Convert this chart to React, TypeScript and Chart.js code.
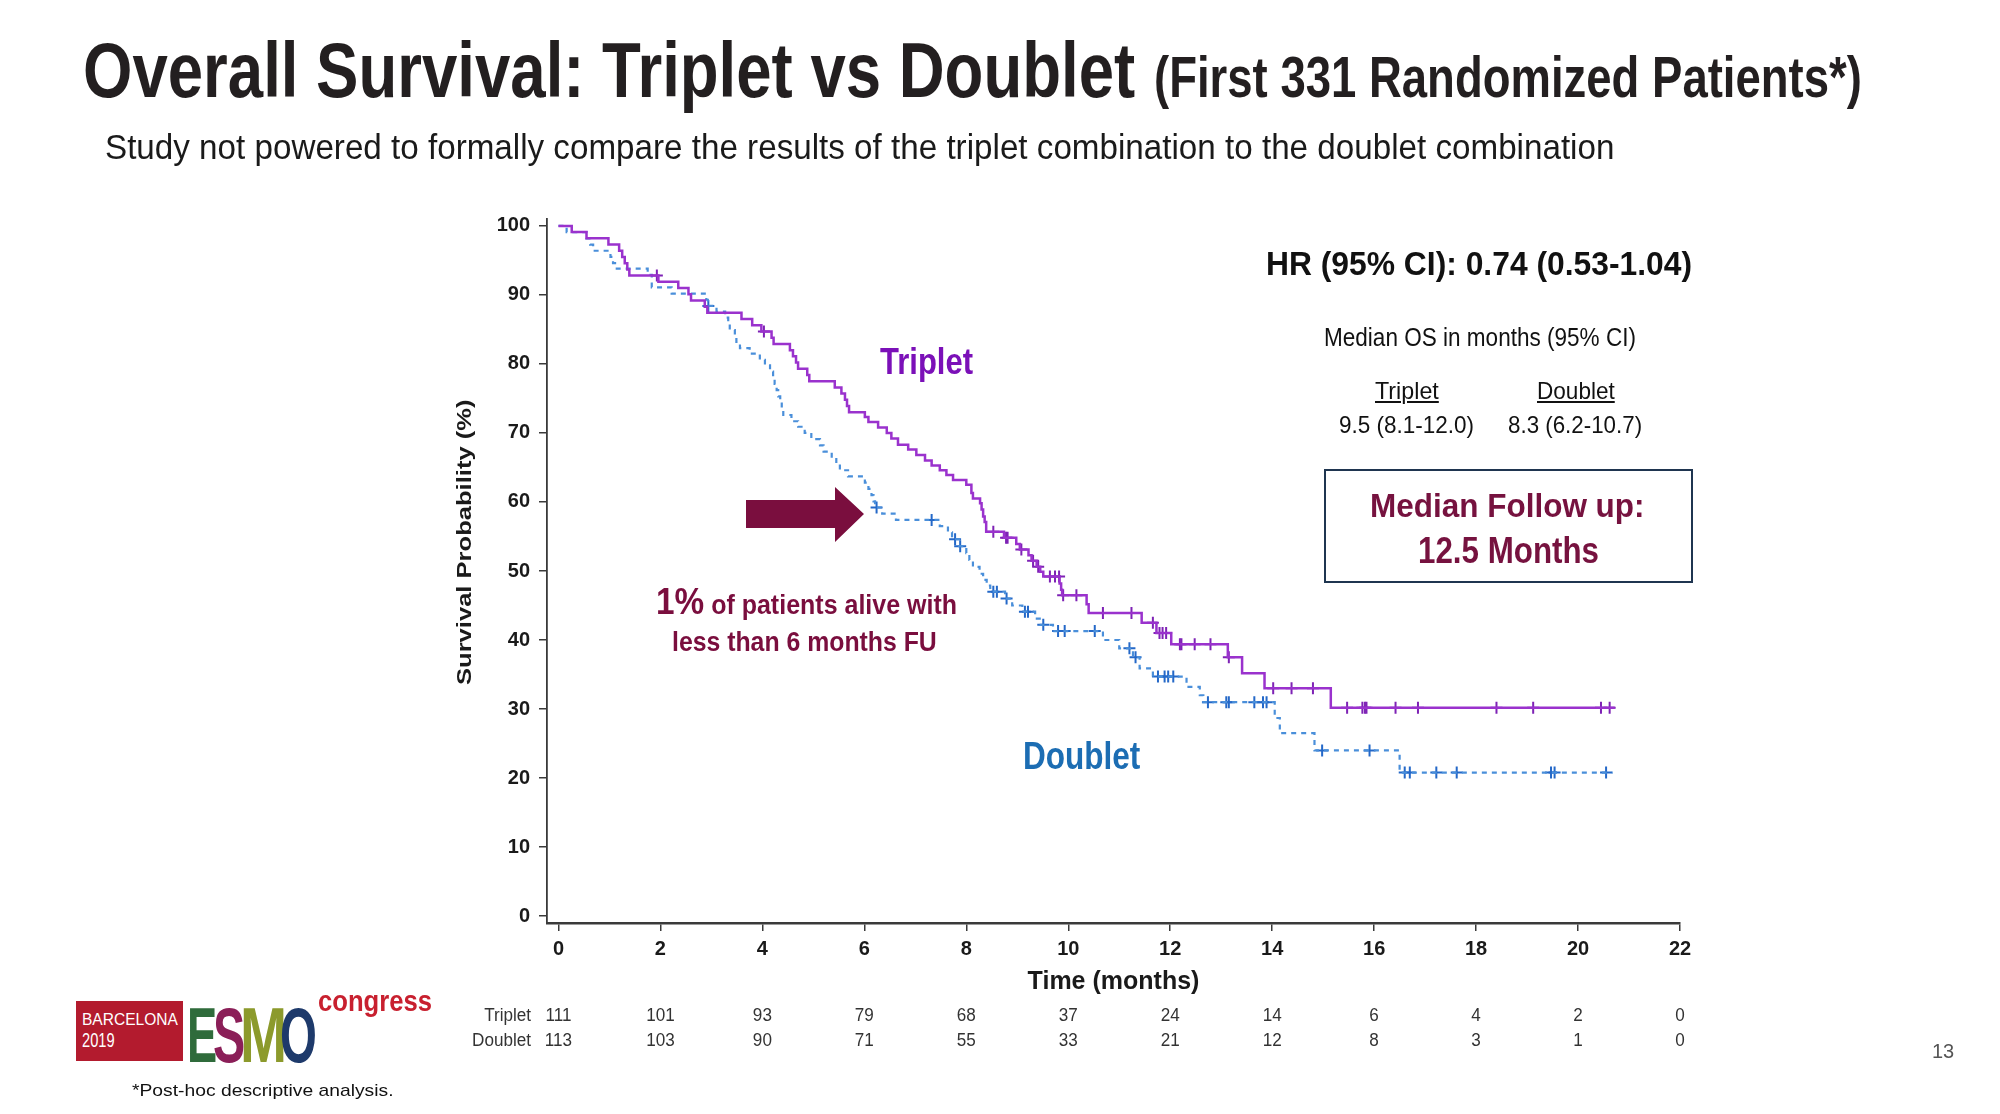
import React, { useEffect, useLayoutEffect, useRef } from "react";
import { Chart, registerables } from "chart.js";

Chart.register(...registerables);

// ---------------- DATA ----------------
const tripletTimes = [0, 0.26, 0.55, 0.98, 1.19, 1.25, 1.3, 1.35, 1.39, 1.96, 2.35, 2.55, 2.6, 2.87, 2.92, 3.59, 3.8, 3.98, 4.18, 4.22, 4.54, 4.6, 4.66, 4.7, 4.88, 4.92, 5.42, 5.55, 5.62, 5.66, 5.7, 6.01, 6.08, 6.27, 6.44, 6.53, 6.66, 6.86, 7.02, 7.19, 7.32, 7.48, 7.61, 7.74, 8.0, 8.1, 8.13, 8.27, 8.3, 8.33, 8.36, 8.39, 8.74, 8.98, 9.05, 9.22, 9.28, 9.38, 9.45, 9.51, 9.83, 9.86, 9.88, 10.36, 10.4, 11.44, 11.73, 12.02, 13.13, 13.41, 13.85, 15.15, 20.72];
const tripletSurv = [100, 99.1, 98.2, 97.3, 96.4, 95.5, 94.6, 93.7, 92.8, 91.9, 91.0, 90.1, 89.2, 88.3, 87.4, 86.5, 85.6, 84.7, 83.8, 82.9, 82.0, 81.1, 80.2, 79.3, 78.4, 77.5, 76.6, 75.7, 74.8, 73.9, 73.0, 72.3, 71.6, 70.8, 70.0, 69.2, 68.3, 67.6, 66.8, 66.0, 65.3, 64.6, 63.9, 63.2, 62.5, 61.3, 60.5, 59.8, 58.9, 57.9, 57.1, 55.7, 54.8, 53.9, 53.1, 52.3, 51.5, 50.6, 49.9, 49.2, 48.2, 47.3, 46.5, 45.2, 43.9, 42.5, 41.0, 39.4, 37.5, 35.2, 33.0, 30.2, 30.2];
const tripletCensorTimes = [1.93, 4.03, 8.53, 8.78, 8.81, 9.08, 9.31, 9.41, 9.64, 9.74, 9.82, 9.9, 10.16, 10.68, 11.24, 11.66, 11.79, 11.85, 11.92, 12.19, 12.22, 12.48, 12.79, 13.15, 14.02, 14.38, 14.8, 15.47, 15.77, 15.82, 15.85, 16.42, 16.86, 18.4, 19.12, 20.45, 20.62];

const doubletTimes = [0, 0.16, 0.55, 0.62, 0.68, 1.02, 1.07, 1.11, 1.75, 1.83, 2.22, 2.9, 2.93, 3.1, 3.27, 3.33, 3.36, 3.46, 3.49, 3.56, 3.75, 3.95, 4.05, 4.15, 4.21, 4.24, 4.28, 4.31, 4.35, 4.38, 4.41, 4.57, 4.7, 4.83, 4.96, 5.13, 5.2, 5.36, 5.45, 5.52, 5.68, 6.01, 6.08, 6.14, 6.18, 6.21, 6.35, 6.62, 7.48, 7.64, 7.72, 7.86, 8.0, 8.06, 8.13, 8.26, 8.33, 8.4, 8.47, 8.76, 8.9, 9.1, 9.35, 9.44, 9.7, 10.68, 11.0, 11.27, 11.4, 11.66, 12.32, 12.58, 12.65, 14.05, 14.15, 14.83, 16.5, 20.68];
const doubletSurv = [100, 99.1, 98.2, 97.3, 96.4, 95.5, 94.6, 93.8, 92.9, 91.1, 90.2, 89.3, 88.4, 87.6, 86.7, 85.8, 84.9, 84.0, 83.2, 82.3, 81.5, 80.6, 79.8, 78.9, 78.0, 77.1, 76.2, 75.3, 74.4, 73.5, 72.6, 71.7, 70.9, 70.0, 69.1, 68.2, 67.3, 66.4, 65.5, 64.6, 63.7, 62.8, 61.9, 61.0, 60.1, 59.2, 58.3, 57.4, 56.5, 55.6, 54.6, 53.6, 52.6, 51.6, 50.6, 49.6, 48.7, 47.9, 47.0, 46.0, 45.0, 44.1, 43.1, 42.2, 41.3, 40.0, 38.8, 37.5, 35.9, 34.7, 33.2, 32.0, 31.0, 28.7, 26.5, 24.0, 20.8, 20.8];
const doubletCensorTimes = [2.94, 6.24, 7.32, 7.78, 7.88, 8.53, 8.6, 8.79, 9.15, 9.21, 9.51, 9.8, 9.93, 10.52, 11.2, 11.32, 11.76, 11.89, 11.96, 12.06, 12.74, 13.1, 13.15, 13.65, 13.82, 13.89, 14.98, 15.91, 16.6, 16.7, 17.22, 17.62, 19.47, 19.54, 20.55];

const xTickValues = [0, 2, 4, 6, 8, 10, 12, 14, 16, 18, 20, 22];
const yTickValues = [0, 10, 20, 30, 40, 50, 60, 70, 80, 90, 100];
const riskTimes = [0, 2, 4, 6, 8, 10, 12, 14, 16, 18, 20, 22];
const tripletAtRisk = [111, 101, 93, 79, 68, 37, 24, 14, 6, 4, 2, 0];
const doubletAtRisk = [113, 103, 90, 71, 55, 33, 21, 12, 8, 3, 1, 0];

// ---------------- STYLE ----------------
const SANS = '"Liberation Sans", Arial, Helvetica, sans-serif';
const TRIPLET_LINE = "#9A32CD";
const TRIPLET_MARK = "#7E22B5";
const DOUBLET_LINE = "#4A8FDA";
const DOUBLET_MARK = "#2468C8";
const AXIS = "#3a3a3a";
const MAROON = "#7A0E3E";

const Y_W = 60;
const X_H = 74;

function survAt(times: number[], surv: number[], t: number) {
  let s = surv[0];
  for (let i = 0; i < times.length; i++) if (times[i] <= t) s = surv[i];
  return s;
}

function drawScaled(ctx: CanvasRenderingContext2D, text: string, px: number, py: number, align: CanvasTextAlign) {
  ctx.save();
  ctx.translate(px, py);
  ctx.scale(0.95, 1);
  ctx.textAlign = align;
  ctx.fillText(text, 0, 0);
  ctx.restore();
}

const atRiskPlugin = {
  id: "atRisk",
  afterDraw(chart: any) {
    const { ctx } = chart;
    const x = chart.scales.x;
    ctx.save();
    ctx.fillStyle = "#333";
    ctx.font = `18px ${SANS}`;
    ctx.textBaseline = "alphabetic";
    const rows = [
      { label: "Triplet", vals: tripletAtRisk, y: 1021 },
      { label: "Doublet", vals: doubletAtRisk, y: 1046 },
    ];
    rows.forEach((r) => {
      drawScaled(ctx, r.label, 531, r.y, "right");
      r.vals.forEach((v, i) => drawScaled(ctx, String(v), x.getPixelForValue(riskTimes[i]), r.y, "center"));
    });
    ctx.restore();
  },
};

function Fit(props: any) {
  const { x, baseline, w, fs, weight = 400, color = "#111", family = SANS, style, children } = props;
  const ref = useRef<HTMLSpanElement>(null);
  useLayoutEffect(() => {
    const el = ref.current;
    if (!el) return;
    el.style.transform = "none";
    const nat = el.offsetWidth;
    if (nat > 0) el.style.transform = `scaleX(${w / nat})`;
  });
  const top = baseline - 0.8465 * fs;
  return (
    <span
      ref={ref}
      style={{
        position: "absolute",
        left: x,
        top,
        fontSize: fs,
        lineHeight: `${fs}px`,
        fontWeight: weight,
        color,
        fontFamily: family,
        whiteSpace: "nowrap",
        transformOrigin: "0 0",
        display: "inline-block",
        ...style,
      }}
    >
      {children}
    </span>
  );
}

export default function App() {
  const canvasRef = useRef<HTMLCanvasElement>(null);

  useEffect(() => {
    document.body.style.margin = "0";
    document.body.style.overflow = "hidden";
    const tickFont = { family: SANS, size: 20, weight: "bold" as const };
    const chart = new Chart(canvasRef.current!, {
      type: "scatter",
      data: {
        datasets: [
          {
            label: "Triplet",
            data: tripletTimes.map((t, i) => ({ x: t, y: tripletSurv[i] })),
            showLine: true,
            stepped: "before",
            borderColor: TRIPLET_LINE,
            borderWidth: 2.5,
            pointRadius: 0,
            fill: false,
          },
          {
            label: "Triplet censored",
            data: tripletCensorTimes.map((t) => ({ x: t, y: survAt(tripletTimes, tripletSurv, t) })),
            showLine: false,
            pointStyle: "cross",
            pointRadius: 6,
            pointBorderWidth: 2,
            pointBorderColor: TRIPLET_MARK,
            pointBackgroundColor: TRIPLET_MARK,
          },
          {
            label: "Doublet",
            data: doubletTimes.map((t, i) => ({ x: t, y: doubletSurv[i] })),
            showLine: true,
            stepped: "before",
            borderColor: DOUBLET_LINE,
            borderWidth: 2.2,
            borderDash: [5, 5],
            pointRadius: 0,
            fill: false,
          },
          {
            label: "Doublet censored",
            data: doubletCensorTimes.map((t) => ({ x: t, y: survAt(doubletTimes, doubletSurv, t) })),
            showLine: false,
            pointStyle: "cross",
            pointRadius: 6,
            pointBorderWidth: 2,
            pointBorderColor: DOUBLET_MARK,
            pointBackgroundColor: DOUBLET_MARK,
          },
        ],
      },
      options: {
        responsive: false,
        animation: false,
        devicePixelRatio: 1,
        layout: { padding: { left: 547 - Y_W, top: 219, right: 320, bottom: 1114 - 923 - X_H } },
        plugins: { legend: { display: false }, tooltip: { enabled: false } },
        scales: {
          x: {
            type: "linear",
            min: -0.225,
            max: 22,
            afterBuildTicks: (s: any) => {
              s.ticks = xTickValues.map((v) => ({ value: v }));
            },
            afterFit: (s: any) => {
              s.height = X_H;
            },
            ticks: { autoSkip: false, maxRotation: 0, font: tickFont, color: "#1a1a1a", padding: 6 },
            grid: { display: true, drawOnChartArea: false, drawTicks: true, tickLength: 8, color: AXIS, lineWidth: 1.5 },
            border: { display: true, color: AXIS, width: 2.5 },
            title: {
              display: true,
              text: "Time (months)",
              font: { family: SANS, size: 25, weight: "bold" },
              color: "#1a1a1a",
              padding: 0,
            },
          },
          y: {
            type: "linear",
            min: -1.0,
            max: 101,
            afterBuildTicks: (s: any) => {
              s.ticks = yTickValues.map((v) => ({ value: v }));
            },
            afterFit: (s: any) => {
              s.width = Y_W;
            },
            ticks: { autoSkip: false, font: tickFont, color: "#1a1a1a", padding: 9 },
            grid: { display: true, drawOnChartArea: false, drawTicks: true, tickLength: 8, color: AXIS, lineWidth: 1.5 },
            border: { display: true, color: AXIS, width: 1.8 },
          },
        },
      },
      plugins: [atRiskPlugin],
    } as any);
    return () => chart.destroy();
  }, []);

  return (
    <div style={{ position: "absolute", left: 0, top: 0, width: 2000, height: 1114, background: "#fff", overflow: "hidden", fontFamily: SANS }}>
      <canvas ref={canvasRef} width={2000} height={1114} style={{ position: "absolute", left: 0, top: 0, width: 2000, height: 1114 }} />

      {/* Titles */}
      <Fit x={83} baseline={97} fs={77} w={1052} weight={700} color="#231F20">Overall Survival: Triplet vs Doublet</Fit>
      <Fit x={1154} baseline={97} fs={57} w={708} weight={700} color="#231F20">(First 331 Randomized Patients*)</Fit>
      <Fit x={105} baseline={159} fs={35} w={1509} color="#1a1a1a">
        Study not powered to formally compare the results of the triplet combination to the doublet combination
      </Fit>

      {/* HR and medians */}
      <Fit x={1266} baseline={275} fs={33} w={426} weight={700} color="#111">HR (95% CI): 0.74 (0.53-1.04)</Fit>
      <Fit x={1324} baseline={346} fs={25} w={312} color="#111">Median OS in months (95% CI)</Fit>
      <Fit x={1375} baseline={399} fs={24} w={64} color="#111" style={{ textDecoration: "underline" }}>Triplet</Fit>
      <Fit x={1537} baseline={399} fs={24} w={78} color="#111" style={{ textDecoration: "underline" }}>Doublet</Fit>
      <Fit x={1339} baseline={433} fs={24} w={135} color="#111">9.5 (8.1-12.0)</Fit>
      <Fit x={1508} baseline={433} fs={24} w={134} color="#111">8.3 (6.2-10.7)</Fit>

      {/* Follow-up box */}
      <div style={{ position: "absolute", left: 1324, top: 469, width: 369, height: 114, border: "2px solid #1F3550", boxSizing: "border-box" }} />
      <Fit x={1370} baseline={517} fs={34} w={275} weight={700} color="#76123F">Median Follow up:</Fit>
      <Fit x={1418} baseline={563} fs={36} w={181} weight={700} color="#76123F">12.5 Months</Fit>

      {/* Curve labels */}
      <Fit x={880} baseline={374} fs={37} w={93} weight={700} color="#7B10B8">Triplet</Fit>
      <Fit x={1023} baseline={769} fs={38} w={117} weight={700} color="#1C6DB3">Doublet</Fit>

      {/* Arrow + annotation */}
      <svg style={{ position: "absolute", left: 740, top: 480 }} width={130} height={70}>
        <polygon points="6,20 95,20 95,7 124,34 95,62 95,48 6,48" fill={MAROON} />
      </svg>
      <Fit x={656} baseline={614} fs={36} w={301} weight={700} color={MAROON}>
        <span>1%</span>
        <span style={{ fontSize: 27 }}> of patients alive with</span>
      </Fit>
      <Fit x={672} baseline={652} fs={28} w={265} weight={700} color={MAROON}>less than 6 months FU</Fit>

      {/* Y axis title */}
      <div style={{ position: "absolute", left: 463, top: 542, transform: "rotate(-90deg)", transformOrigin: "0 0" }}>
        <Fit x={-143} baseline={7.5} fs={21} w={286} weight={700} color="#1a1a1a">Survival Probability (%)</Fit>
      </div>

      {/* Logo */}
      <div style={{ position: "absolute", left: 76, top: 1001, width: 107, height: 60, background: "#B31B2E" }} />
      <Fit x={82} baseline={1025} fs={17} w={96} color="#fff">BARCELONA</Fit>
      <Fit x={82} baseline={1047} fs={20} w={33} color="#fff">2019</Fit>
      <Fit x={187} baseline={1062} fs={77} w={30} weight={700} color="#2F6B3B">E</Fit>
      <Fit x={213} baseline={1062} fs={77} w={32} weight={700} color="#8B1F58">S</Fit>
      <Fit x={240} baseline={1062} fs={77} w={47} weight={700} color="#8C9A2C">M</Fit>
      <Fit x={280} baseline={1062} fs={77} w={37} weight={700} color="#1E3A6B">O</Fit>
      <Fit x={318} baseline={1012} fs={29} w={114} weight={700} color="#C8202F">congress</Fit>

      {/* Footnote and page number */}
      <Fit x={132} baseline={1096} fs={17} w={262} color="#111">*Post-hoc descriptive analysis.</Fit>
      <Fit x={1932} baseline={1058} fs={20} w={22} color="#555">13</Fit>
    </div>
  );
}
